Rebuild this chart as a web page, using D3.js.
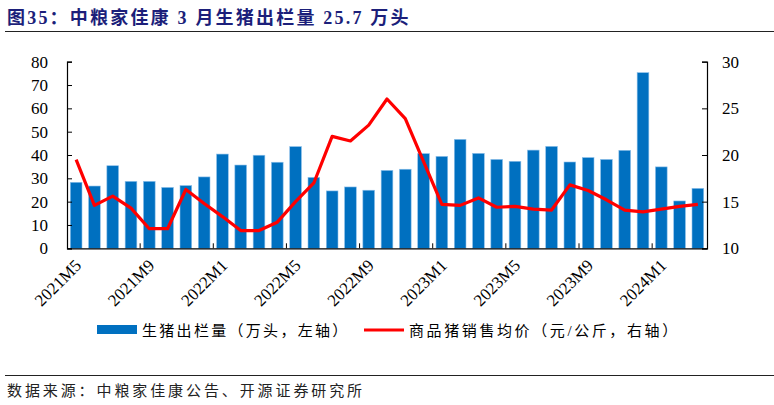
<!DOCTYPE html>
<html>
<head>
<meta charset="utf-8">
<script src="https://cdn.jsdelivr.net/npm/d3@7"></script>
<style>
  body { margin: 0; background: #fff; }
  svg { display: block; }
</style>
</head>
<body>
<div id="chart"></div>
<script>
const months = [
  '2021M5', '2021M6', '2021M7', '2021M8', '2021M9', '2021M10', '2021M11', '2021M12',
  '2022M1', '2022M2', '2022M3', '2022M4', '2022M5', '2022M6', '2022M7', '2022M8',
  '2022M9', '2022M10', '2022M11', '2022M12',
  '2023M1', '2023M2', '2023M3', '2023M4', '2023M5', '2023M6', '2023M7', '2023M8',
  '2023M9', '2023M10', '2023M11', '2023M12',
  '2024M1', '2024M2', '2024M3',
]
// 生猪出栏量（万头）
const output = [
  28.3, 26.7, 35.4, 28.7, 28.7, 26.1, 26.9, 30.6,
  40.4, 35.7, 39.9, 36.9, 43.6, 30.4, 24.6, 26.3,
  24.9, 33.4, 33.9, 40.6,
  39.4, 46.7, 40.7, 38.1, 37.3, 42.1, 43.7, 37.0,
  38.9, 38.1, 42.0, 75.3,
  34.9, 20.3, 25.7,
]
// 商品猪销售均价（元/公斤）
const price = [
  19.5, 14.6, 15.6, 14.3, 12.1, 12.1, 16.3, 14.8,
  13.4, 11.9, 11.9, 12.8, 15.0, 17.0, 22.0, 21.5,
  23.2, 26.0, 23.9, 19.3,
  14.7, 14.6, 15.4, 14.4, 14.5, 14.2, 14.1, 16.8,
  16.2, 15.2, 14.1, 13.9,
  14.2, 14.5, 14.7,
]
const leftTicks = [0, 10, 20, 30, 40, 50, 60, 70, 80]
const rightTicks = [10, 15, 20, 25, 30]
const shownLabels = ['2021M5', '2021M9', '2022M1', '2022M5', '2022M9', '2023M1', '2023M5', '2023M9', '2024M1']

const width = 774
const height = 405
const plot = { left: 67, right: 707, top: 61.7, bottom: 248.3 }
const serif = '"Liberation Serif", "Times New Roman", serif'
const cjk = '"Liberation Serif", "Noto Sans CJK SC", serif'

const svg = d3.select('#chart')
  .append('svg')
  .attr('width', width)
  .attr('height', height)

// title + rules
svg.append('text')
  .attr('x', 7)
  .attr('y', 24)
  .attr('fill', '#1c1f7a')
  .attr('font-family', cjk)
  .attr('font-weight', 'bold')
  .attr('font-size', 18)
  .attr('letter-spacing', 2.2)
  .text('图35：中粮家佳康 3 月生猪出栏量 25.7 万头')

svg.append('line')
  .attr('x1', 5).attr('x2', width).attr('y1', 31.5).attr('y2', 31.5)
  .attr('stroke', '#222').attr('stroke-width', 1.2)

svg.append('line')
  .attr('x1', 5).attr('x2', width).attr('y1', 375.5).attr('y2', 375.5)
  .attr('stroke', '#222').attr('stroke-width', 1.2)

svg.append('text')
  .attr('x', 7)
  .attr('y', 396)
  .attr('fill', '#222')
  .attr('font-family', cjk)
  .attr('font-size', 15)
  .attr('letter-spacing', 2.9)
  .text('数据来源：中粮家佳康公告、开源证券研究所')

const x = d3.scaleBand()
  .domain(months)
  .range([plot.left, plot.right])
  .paddingInner(0.36)
  .paddingOuter(0.18)

const y = d3.scaleLinear().domain([0, 80]).range([plot.bottom, plot.top])
const y2 = d3.scaleLinear().domain([10, 30]).range([plot.bottom, plot.top])

// bars
svg.append('g')
  .selectAll('rect')
  .data(output)
  .enter()
  .append('rect')
  .attr('x', (d, i) => x(months[i]))
  .attr('y', (d) => y(d))
  .attr('width', x.bandwidth())
  .attr('height', (d) => y(0) - y(d))
  .attr('fill', '#0070c0')
  .attr('stroke', '#8ec0ea')
  .attr('stroke-width', 0.6)

// price line
const line = d3.line()
  .x((d, i) => x(months[i]) + x.bandwidth() / 2)
  .y((d) => y2(d))

svg.append('path')
  .datum(price)
  .attr('d', line)
  .attr('fill', 'none')
  .attr('stroke', '#ff0000')
  .attr('stroke-width', 3.2)
  .attr('stroke-linejoin', 'round')

// axes
const leftAxis = svg.append('g')
  .attr('transform', `translate(${plot.left},0)`)
  .call(d3.axisRight(y).tickValues(leftTicks).tickSize(5).tickFormat(d3.format('d')))
leftAxis.selectAll('text')
  .attr('x', -19)
  .attr('text-anchor', 'end')

const rightAxis = svg.append('g')
  .attr('transform', `translate(${plot.right},0)`)
  .call(d3.axisLeft(y2).tickValues(rightTicks).tickSize(5).tickFormat(d3.format('d')))
rightAxis.selectAll('text')
  .attr('x', 15)
  .attr('text-anchor', 'start')

const bottomAxis = svg.append('g')
  .attr('transform', `translate(0,${plot.bottom})`)
  .call(d3.axisBottom(x).tickValues([]).tickSizeOuter(0))

// tick marks between categories, one every four months
bottomAxis.selectAll('.boundary')
  .data(shownLabels.slice(1))
  .enter()
  .append('line')
  .attr('x1', (d) => x(d) - x.step() * x.paddingInner() / 2)
  .attr('x2', (d) => x(d) - x.step() * x.paddingInner() / 2)
  .attr('y1', 0)
  .attr('y2', -5)
  .attr('stroke', '#000')

bottomAxis.selectAll('.label')
  .data(shownLabels)
  .enter()
  .append('text')
  .attr('transform', (d) => `translate(${x(d) + x.bandwidth() / 2 + 2},${14}) rotate(-45)`)
  .attr('text-anchor', 'end')
  .attr('dy', '0.35em')
  .attr('fill', '#000')
  .text((d) => d)

svg.selectAll('.domain').attr('stroke', '#000').attr('stroke-width', 1.2)
svg.selectAll('.tick line').attr('stroke', '#000')
svg.selectAll('g text')
  .attr('font-family', serif)
  .attr('font-size', 17)
  .attr('fill', '#000')

// legend
const legend = svg.append('g').attr('transform', 'translate(0,330)')
legend.append('rect')
  .attr('x', 97).attr('y', -5).attr('width', 40).attr('height', 9)
  .attr('fill', '#0070c0')
legend.append('text')
  .attr('x', 142).attr('y', 5.5)
  .attr('font-family', cjk)
  .attr('font-size', 15)
  .attr('letter-spacing', 2.3)
  .text('生猪出栏量（万头，左轴）')
legend.append('line')
  .attr('x1', 364).attr('x2', 404).attr('y1', 0).attr('y2', 0)
  .attr('stroke', '#ff0000').attr('stroke-width', 3)
legend.append('text')
  .attr('x', 409).attr('y', 5.5)
  .attr('font-family', cjk)
  .attr('font-size', 15)
  .attr('letter-spacing', 2.6)
  .text('商品猪销售均价（元/公斤，右轴）')
</script>
</body>
</html>
